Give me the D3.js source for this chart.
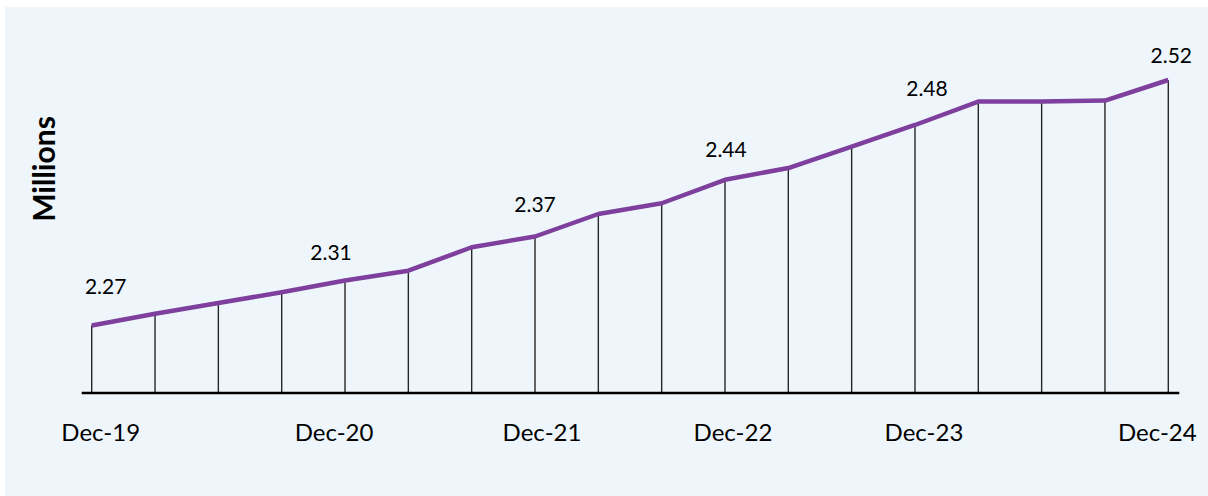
<!DOCTYPE html>
<html lang="en">
<head>
	<meta charset="UTF-8">
	<title>Millions, Dec-19 to Dec-24</title>
	<style>
		body { margin: 0; background: #ffffff; }
		svg { display: block; }
		text { font-family: Lato, "Open Sans", sans-serif; fill: #000000; }
	</style>
</head>
<body>
	<figure id="chart" style="margin:0"></figure>
	<script src="https://cdn.jsdelivr.net/npm/d3@7"></script>
	<script>
		// periods on the x axis (18 points)
		var periods = ["Dec-19", "Mar-20", "Jun-20", "Sep-20", "Dec-20",
			"Apr-21", "Aug-21", "Dec-21",
			"Apr-22", "Aug-22", "Dec-22",
			"Apr-23", "Aug-23", "Dec-23",
			"Mar-24", "Jun-24", "Sep-24", "Dec-24"];

		// values, millions
		var values = [2.269, 2.281, 2.292, 2.303, 2.315, 2.325, 2.349, 2.360, 2.383,
			2.394, 2.418, 2.430, 2.452, 2.474, 2.498, 2.498, 2.499, 2.520];

		// tick labels shown under the axis
		var tickLabels = ["Dec-19", "Dec-20", "Dec-21", "Dec-22", "Dec-23", "Dec-24"];

		// value labels shown above the line
		var labelPeriods = ["Dec-19", "Dec-20", "Dec-21", "Dec-22", "Dec-23", "Dec-24"];
		var labelTexts = ["2.27", "2.31", "2.37", "2.44", "2.48", "2.52"];

		// hand placed nudges, like the original chart
		var tickNudge = [9, -11, 7, 8, 9, -11];
		var labelNudge = [[14, -32], [-14, -21], [0, -25], [1, -23], [12, -29], [3, -17]];

		var w = 1208, h = 496;

		var svg = d3.select("#chart").append("svg")
			.attr("width", w)
			.attr("height", h);

		svg.append("rect")
			.attr("x", 5)
			.attr("y", 7)
			.attr("width", w - 5)
			.attr("height", h - 7)
			.attr("fill", "#eef6fc");

		var x = d3.scalePoint()
			.domain(periods)
			.range([91.7, 1168.3]);

		var y = d3.scaleLinear()
			.domain([2.2, 2.52])
			.range([393, 80]);

		var data = periods.map((p, i) => ({ period: p, value: values[i] }));

		// drop lines
		svg.selectAll("line.drop")
			.data(data)
			.enter()
			.append("line")
			.attr("class", "drop")
			.attr("x1", d => x(d.period))
			.attr("x2", d => x(d.period))
			.attr("y1", d => y(d.value))
			.attr("y2", y(2.2))
			.attr("stroke", "#262626")
			.attr("stroke-width", 1.4);

		// baseline
		svg.append("line")
			.attr("x1", x(periods[0]) - 10)
			.attr("x2", x(periods[periods.length - 1]) + 11)
			.attr("y1", y(2.2))
			.attr("y2", y(2.2))
			.attr("stroke", "#000000")
			.attr("stroke-width", 2.5);

		var line = d3.line()
			.x(d => x(d.period))
			.y(d => y(d.value));

		svg.append("path")
			.datum(data)
			.attr("d", line)
			.attr("fill", "none")
			.attr("stroke", "#7e3f9d")
			.attr("stroke-width", 4.5)
			.attr("stroke-linejoin", "round");

		// x tick labels
		svg.selectAll("text.tick")
			.data(tickLabels)
			.enter()
			.append("text")
			.attr("class", "tick")
			.attr("x", (d, i) => x(d) + tickNudge[i])
			.attr("y", 441)
			.attr("text-anchor", "middle")
			.style("font-size", "24px")
			.text(d => d);

		// value labels
		svg.selectAll("text.val")
			.data(labelPeriods)
			.enter()
			.append("text")
			.attr("class", "val")
			.attr("x", (d, i) => x(d) + labelNudge[i][0])
			.attr("y", (d, i) => y(values[periods.indexOf(d)]) + labelNudge[i][1])
			.attr("text-anchor", "middle")
			.style("font-size", "21px")
			.text((d, i) => labelTexts[i]);

		// y axis title
		svg.append("text")
			.attr("transform", "translate(55,169) rotate(-90)")
			.attr("text-anchor", "middle")
			.style("font-size", "30px")
			.style("font-weight", "bold")
			.text("Millions");
	</script>
</body>
</html>
